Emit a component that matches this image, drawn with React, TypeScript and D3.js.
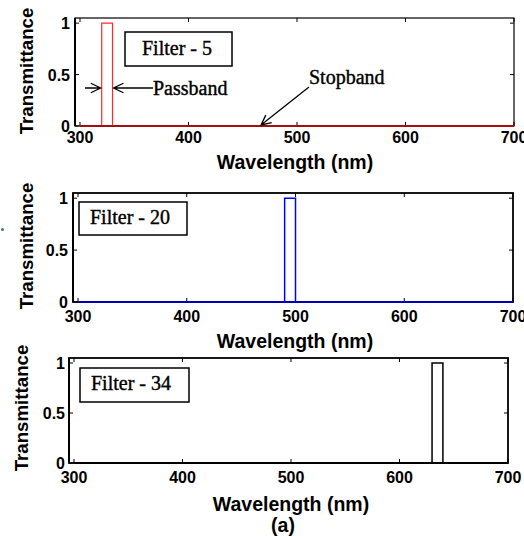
import React, { useRef, useEffect } from "react";
import * as d3 from "d3";

// chart values
const filterNames = ["Filter - 5", "Filter - 20", "Filter - 34"];
const passStart = [320, 490, 630];
const passEnd = [330, 500, 640];
const xTicks = [300, 400, 500, 600, 700];
const yTicks = [0, 0.5, 1];
const xDomain = [295.4, 700];
const yDomain = [0, 1.05];

// panel layout (pixels)
const panels = [
  { l: 75, r: 514, t: 18, b: 126, color: "#ff2a2a", base: "#a01010", xTickY: 143, yTickEnd: 70, yLabX: 33, yLabY: 71, xLabX: 295, xLabY: 169, box: [125, 32, 232, 66], boxText: [142, 55] },
  { l: 73, r: 513, t: 193, b: 302, color: "#0000ff", base: "#0000b0", xTickY: 322, yTickEnd: 68, yLabX: 33, yLabY: 246, xLabX: 295, xLabY: 348, box: [79, 202, 187, 235], boxText: [90, 224] },
  { l: 69, r: 508, t: 358, b: 463, color: "#000000", base: "#000000", xTickY: 483, yTickEnd: 65, yLabX: 28, yLabY: 408, xLabX: 291, xLabY: 511, box: [80, 368, 189, 402], boxText: [91, 390] },
];

const sans = "'Liberation Sans', Arial, Helvetica, sans-serif";
const serif = "'Liberation Serif', 'Times New Roman', serif";

const App = () => {
  const svgRef = useRef<SVGSVGElement>(null);

  useEffect(() => {
    const w = 524;
    const h = 536;
    const svg = d3.select(svgRef.current).attr("width", w).attr("height", h).style("background", "#fff");
    svg.selectAll("*").remove();

    panels.forEach((p, i) => {
      const g = svg.append("g");
      const x = d3.scaleLinear().domain(xDomain).range([p.l, p.r]);
      const y = d3.scaleLinear().domain(yDomain).range([p.b, p.t]);

      // spectrum: 0 outside passband, 1 inside
      const pts: [number, number][] = [
        [xTicks[0], 0],
        [passStart[i], 0],
        [passStart[i], 1],
        [passEnd[i], 1],
        [passEnd[i], 0],
        [xTicks[xTicks.length - 1], 0],
      ];
      const line = d3.line<[number, number]>().x((d) => x(d[0])).y((d) => y(d[1]));

      // axes box
      g.append("rect")
        .attr("x", p.l).attr("y", p.t)
        .attr("width", p.r - p.l).attr("height", p.b - p.t)
        .attr("fill", "none").attr("stroke", "#000").attr("stroke-width", i === 0 ? 1.2 : 1.8);
      g.append("line").attr("x1", p.l).attr("x2", p.l).attr("y1", p.t).attr("y2", p.b)
        .attr("stroke", "#000").attr("stroke-width", 2);

      // inward ticks on all four sides
      const tl = 4;
      xTicks.forEach((t) => {
        g.append("line").attr("x1", x(t)).attr("x2", x(t)).attr("y1", p.b).attr("y2", p.b - tl).attr("stroke", "#000");
        g.append("line").attr("x1", x(t)).attr("x2", x(t)).attr("y1", p.t).attr("y2", p.t + tl).attr("stroke", "#000");
        g.append("text").attr("x", x(t)).attr("y", p.xTickY).attr("text-anchor", "middle")
          .attr("font-family", sans).attr("font-weight", "bold").attr("font-size", 16).text(t);
      });
      yTicks.forEach((t) => {
        g.append("line").attr("x1", p.l).attr("x2", p.l + tl).attr("y1", y(t)).attr("y2", y(t)).attr("stroke", "#000");
        g.append("line").attr("x1", p.r).attr("x2", p.r - tl).attr("y1", y(t)).attr("y2", y(t)).attr("stroke", "#000");
        g.append("text").attr("x", p.yTickEnd).attr("y", y(t) + 6).attr("text-anchor", "end")
          .attr("font-family", sans).attr("font-weight", "bold").attr("font-size", 16).text(t);
      });

      // data
      g.append("path").attr("d", line(pts)).attr("fill", "none")
        .attr("stroke", p.color).attr("stroke-width", i === 0 ? 1.2 : 1.5);
      g.append("line").attr("x1", x(xTicks[0])).attr("x2", x(xTicks[xTicks.length - 1]))
        .attr("y1", y(0)).attr("y2", y(0)).attr("stroke", p.base).attr("stroke-width", 2);

      // axis labels
      g.append("text").attr("transform", `translate(${p.yLabX},${p.yLabY}) rotate(-90)`)
        .attr("text-anchor", "middle").attr("font-family", sans).attr("font-weight", "bold")
        .attr("font-size", 18.7).text("Transmittance");
      g.append("text").attr("x", p.xLabX).attr("y", p.xLabY).attr("text-anchor", "middle")
        .attr("font-family", sans).attr("font-weight", "bold").attr("font-size", 19.5).text("Wavelength (nm)");

      // filter name box
      const [bx0, by0, bx1, by1] = p.box;
      g.append("rect").attr("x", bx0).attr("y", by0).attr("width", bx1 - bx0).attr("height", by1 - by0)
        .attr("fill", "#fff").attr("stroke", "#000").attr("stroke-width", 1.5);
      g.append("text").attr("x", p.boxText[0]).attr("y", p.boxText[1])
        .attr("font-family", serif).attr("font-size", 20)
        .attr("stroke", "#000").attr("stroke-width", 0.4).text(filterNames[i]);
    });

    // annotations in the first panel
    const p = panels[0];
    const x = d3.scaleLinear().domain(xDomain).range([p.l, p.r]);
    const y = d3.scaleLinear().domain(yDomain).range([p.b, p.t]);
    const arrow = (x1: number, y1: number, x2: number, y2: number) => {
      const a = Math.atan2(y2 - y1, x2 - x1);
      const hl = 11;
      const hw = 0.45;
      const path = d3.path();
      path.moveTo(x1, y1);
      path.lineTo(x2, y2);
      path.moveTo(x2 - hl * Math.cos(a - hw), y2 - hl * Math.sin(a - hw));
      path.lineTo(x2, y2);
      path.lineTo(x2 - hl * Math.cos(a + hw), y2 - hl * Math.sin(a + hw));
      svg.append("path").attr("d", path.toString()).attr("fill", "none")
        .attr("stroke", "#000").attr("stroke-width", 1.3);
    };
    arrow(85, 88, x(passStart[0]) - 1, 88);
    arrow(153, 88, x(passEnd[0]) + 1, 88);
    svg.append("text").attr("x", 153).attr("y", 95).attr("font-family", serif).attr("font-size", 20)
      .attr("stroke", "#000").attr("stroke-width", 0.4).text("Passband");
    arrow(309, 87, 261, y(0) - 1);
    svg.append("text").attr("x", 309).attr("y", 84).attr("font-family", serif).attr("font-size", 20)
      .attr("stroke", "#000").attr("stroke-width", 0.4).text("Stopband");
    svg.append("text").attr("x", 283).attr("y", 532).attr("text-anchor", "middle")
      .attr("font-family", sans).attr("font-weight", "bold").attr("font-size", 19.5).text("(a)");

    // small stray mark at the left edge
    svg.append("circle").attr("cx", 2.5).attr("cy", 229.5).attr("r", 1.5).attr("fill", "#4a6fa5");
  }, []);

  return (
    <div style={{ position: "absolute", left: 0, top: 0 }}>
      <svg ref={svgRef} style={{ display: "block" }}></svg>
    </div>
  );
};

export default App;
